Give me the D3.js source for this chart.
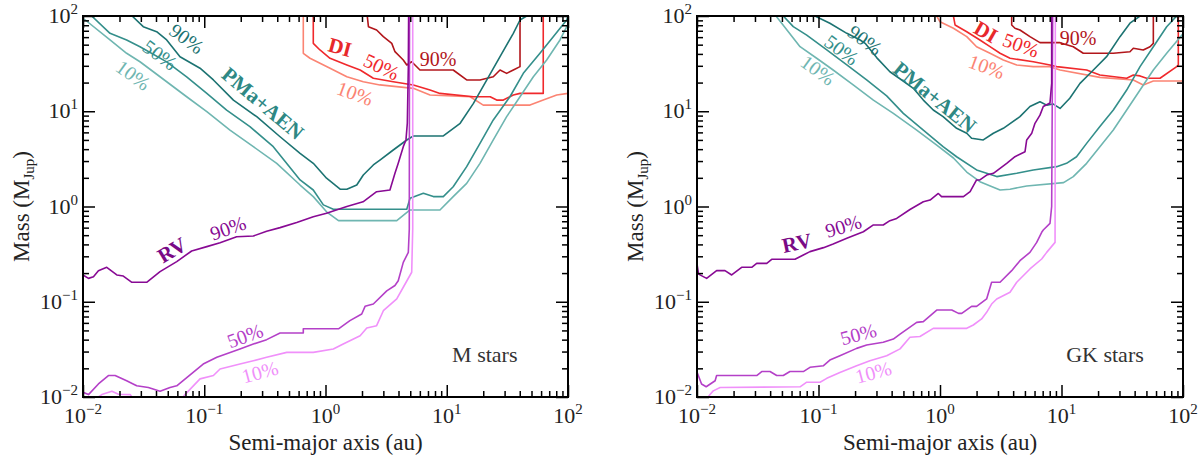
<!DOCTYPE html>
<html>
<head>
<meta charset="utf-8">
<script src="https://cdn.jsdelivr.net/npm/d3@7"></script>
<style>
  body { margin: 0; background: #fff; }
  svg { display: block; }
  text { font-family: "Liberation Serif", "DejaVu Serif", serif; }
</style>
</head>
<body>
<svg id="chart" width="1200" height="459"></svg>
<script>
// detection limits, points are [semi-major axis (au), mass (MJup)]
// ---- M stars ----
const rvM90 = [[0.0100,0.191],[0.0111,0.176],[0.0122,0.183],[0.0134,0.212],[0.0157,0.230],[0.019,0.191],[0.0215,0.186],[0.0253,0.160],[0.0335,0.160],[0.0432,0.207],[0.0593,0.264],[0.0787,0.341],[0.105,0.379],[0.135,0.417],[0.185,0.482],[0.254,0.49],[0.327,0.55],[0.422,0.60],[0.579,0.68],[0.793,0.78],[1.02,0.85],[1.5,1.0],[2.04,1.12],[2.64,1.43],[3.4,1.49],[3.74,2.23],[3.98,2.85],[4.38,4.25],[4.61,5.0],[4.73,7.5],[4.82,29],[4.85,110]];
const rvM50 = [[0.0100,0.0112],[0.0111,0.0106],[0.0134,0.0137],[0.0162,0.0168],[0.0184,0.0168],[0.0229,0.0148],[0.0277,0.0131],[0.0346,0.0126],[0.0432,0.0115],[0.0522,0.0126],[0.0593,0.0131],[0.098,0.0222],[0.127,0.0261],[0.197,0.0319],[0.254,0.036],[0.327,0.040],[0.422,0.047],[0.656,0.047],[0.656,0.052],[1.28,0.052],[1.59,0.0633],[1.99,0.0743],[2.12,0.0895],[2.48,0.0946],[3.20,0.130],[3.74,0.148],[3.98,0.166],[4.38,0.259],[4.82,0.33],[4.91,0.58],[4.93,110]];
const rvM10 = [[0.0126,0.0095],[0.0143,0.0106],[0.0173,0.0115],[0.0196,0.0107],[0.0245,0.0106],[0.0269,0.009],[0.063,0.009],[0.0693,0.0106],[0.0923,0.0155],[0.119,0.0168],[0.135,0.0197],[0.197,0.0222],[0.254,0.024],[0.327,0.0261],[0.479,0.0294],[0.793,0.0294],[1.16,0.0319],[1.40,0.036],[1.93,0.044],[2.19,0.053],[2.64,0.0561],[3.0,0.0805],[3.87,0.107],[4.38,0.142],[5.14,0.204],[5.24,0.58],[5.24,110]];
const pmaM90 = [[0.0254,100],[0.0314,77.3],[0.0405,68.4],[0.049,56],[0.0631,37.4],[0.0923,28.3],[0.119,21.3],[0.174,13.1],[0.271,8.77],[0.422,5.4],[0.617,3.62],[0.793,2.84],[1.02,1.98],[1.32,1.52],[1.50,1.52],[1.81,1.68],[2.05,2.14],[2.48,2.73],[2.81,3.07],[3.62,3.92],[4.68,4.99],[5.30,5.5],[9.37,5.5],[12.9,7.47],[16.6,12.1],[21.4,21.3],[27.5,37.4],[35.4,65.8],[40.2,90.8],[45.6,100]];
const pmaM50 = [[0.0118,100],[0.0167,65.8],[0.0229,56],[0.0295,47.6],[0.049,33],[0.0716,23],[0.105,15.4],[0.153,10.3],[0.238,6.9],[0.371,4.25],[0.617,1.90],[0.793,1.49],[0.96,1.04],[1.16,0.935],[4.68,0.935],[4.98,1.22],[6.41,1.38],[7.75,1.27],[9.37,1.27],[11.3,1.61],[14.6,2.62],[18.8,4.6],[24.2,8.1],[33.2,14.2],[42.8,25],[58.7,40.6],[75.6,60.7],[97.5,90.8],[100,100]];
const pmaM10 = [[0.0102,93],[0.0167,56],[0.0229,40.6],[0.0295,33.1],[0.049,20.4],[0.0716,14.2],[0.105,9.9],[0.163,6.35],[0.254,4.25],[0.396,2.84],[0.617,1.68],[0.793,1.27],[1.02,0.88],[1.28,0.71],[3.87,0.71],[4.98,0.92],[8.79,0.92],[11.3,1.27],[14.6,1.75],[18.8,2.84],[24.2,5.0],[31.2,8.77],[40.2,14.2],[51.8,23],[66.7,34.5],[85.9,56],[100,82]];
const diM90 = [[2.21,100],[2.26,77.3],[2.64,71.3],[3.0,60.7],[3.52,51.6],[3.74,42.2],[4.38,34.5],[4.68,30.6],[5.14,33.1],[6.01,27.1],[11.3,27.1],[14.6,21.3],[18.8,21.3],[24.2,23],[27.5,27.1],[31.2,25],[35.4,27.1],[40.2,29.4],[40.2,100]];
const diM50 = [[0.793,100],[0.793,51.6],[0.90,44],[1.09,36],[1.50,30.6],[1.93,27.1],[2.48,22.2],[3.62,20.4],[5.30,18.9],[7.28,16.7],[8.79,15.4],[16.6,14.2],[22.8,14.2],[25.8,13.1],[29.3,13.1],[35.4,14.8],[40.2,15.4],[62.5,15.4],[62.5,21.3],[62.5,100]];
const diM10 = [[0.656,100],[0.656,40.6],[0.745,36],[1.09,28.3],[1.50,23],[2.05,20.4],[2.81,18.9],[5.30,17.4],[7.28,14.8],[15.6,14.2],[20.0,11.6],[48.6,11.6],[62.5,13.1],[80.7,14.8],[100,15.4]];

// ---- GK stars ----
const rvGK90 = [[0.0100,0.25],[0.0103,0.195],[0.0120,0.176],[0.0145,0.212],[0.0170,0.212],[0.0193,0.191],[0.0233,0.230],[0.0282,0.230],[0.031,0.253],[0.0375,0.253],[0.0412,0.279],[0.0641,0.279],[0.075,0.31],[0.0851,0.336],[0.110,0.37],[0.132,0.404],[0.171,0.463],[0.234,0.543],[0.283,0.64],[0.341,0.64],[0.387,0.71],[0.44,0.75],[0.566,0.93],[0.729,1.12],[0.828,1.17],[0.969,1.37],[1.03,1.27],[1.56,1.27],[1.77,1.43],[2.0,1.9],[2.13,1.9],[2.42,2.14],[2.75,2.23],[3.54,2.84],[4.14,3.33],[5.01,3.76],[5.17,5.0],[5.69,5.87],[6.05,7.47],[6.65,9.1],[7.08,11.2],[8.04,12.2],[8.30,19.6],[8.30,110]];
const rvGK50 = [[0.0100,0.0183],[0.0109,0.0137],[0.0119,0.0128],[0.0141,0.0148],[0.0145,0.0168],[0.031,0.0168],[0.0341,0.0185],[0.0399,0.0185],[0.0453,0.0168],[0.0513,0.0168],[0.0582,0.0185],[0.075,0.0185],[0.0851,0.0205],[0.110,0.0213],[0.124,0.0244],[0.150,0.0271],[0.206,0.0324],[0.249,0.0352],[0.341,0.0375],[0.413,0.0406],[0.469,0.0458],[0.643,0.0608],[0.729,0.0618],[0.94,0.0818],[1.25,0.0818],[1.42,0.0755],[1.51,0.0755],[1.82,0.0895],[2.0,0.0895],[2.42,0.107],[2.66,0.16],[3.12,0.16],[3.89,0.212],[4.55,0.27],[5.5,0.33],[6.25,0.42],[6.87,0.536],[7.08,0.566],[8.04,0.665],[8.30,1.0],[8.47,110]];
const rvGK10 = [[0.0116,0.009],[0.0128,0.0106],[0.0136,0.0116],[0.0155,0.0126],[0.0705,0.0128],[0.080,0.0143],[0.103,0.0143],[0.117,0.0157],[0.150,0.0181],[0.206,0.0213],[0.265,0.024],[0.364,0.0271],[0.469,0.032],[0.566,0.0424],[0.684,0.0432],[0.88,0.0526],[1.66,0.0526],[1.88,0.057],[2.20,0.066],[2.42,0.0775],[2.66,0.0946],[2.93,0.107],[3.77,0.126],[4.28,0.16],[5.5,0.221],[6.87,0.281],[7.55,0.33],[8.85,0.42],[8.9,110]];
const pmaGK90 = [[0.0935,100],[0.124,84],[0.171,65.8],[0.22,56],[0.242,51.6],[0.301,36.6],[0.387,26],[0.484,21.3],[0.603,17.4],[0.729,13.1],[0.88,10.3],[1.06,8.77],[1.37,6.62],[1.66,5.87],[1.82,5.2],[2.27,5.0],[2.75,5.87],[3.32,6.62],[4.55,8.77],[5.5,11.2],[6.65,12.6],[7.55,11.6],[8.57,11.9],[9.73,10.7],[11.7,13.7],[14.2,19.6],[18.3,27.1],[23.5,37.4],[30.3,60.7],[36.6,84],[44.3,100]];
const pmaGK50 = [[0.0513,100],[0.062,77.3],[0.080,63],[0.117,44],[0.171,30.6],[0.249,21.3],[0.364,14.5],[0.499,9.5],[0.729,6.35],[1.06,4.25],[1.37,3.33],[2.0,2.42],[2.42,2.23],[2.93,2.06],[4.28,2.23],[5.86,2.42],[9.12,2.62],[11.0,2.84],[13.3,3.33],[16.1,4.6],[20.7,6.9],[26.7,10.3],[34.4,16.7],[44.3,29.4],[57,47.6],[73.4,77],[88.7,100]];
const pmaGK10 = [[0.0447,100],[0.0705,47.6],[0.0966,36],[0.132,27.1],[0.193,18.9],[0.283,13.1],[0.413,9.5],[0.643,6.35],[0.94,4.42],[1.29,3.23],[1.66,2.30],[2.13,1.82],[3.12,1.49],[3.77,1.52],[5.17,1.64],[10.4,1.78],[12.5,2.06],[16.1,2.84],[20.7,4.25],[26.7,6.35],[34.4,10.3],[44.3,16.7],[57,27.1],[73.4,40.6],[100,65]];
const diGK90 = [[3.89,100],[3.89,80.5],[4.14,74.3],[4.55,71.3],[5.5,60.7],[6.65,52.5],[9.73,52.5],[12.5,47.6],[15.1,40.6],[26.7,40.6],[36.6,42.2],[39,45.8],[47.1,44],[53.5,47.6],[57,51.6],[57,100]];
const diGK50 = [[1.29,100],[1.33,80.5],[1.66,68.4],[2.13,56],[2.58,47.6],[3.12,40.6],[3.77,36],[5.86,33.1],[8.04,30.6],[9.12,29.4],[16.1,27.1],[20.7,24],[34.4,22.2],[39,24],[44.3,23.5],[50.2,22.2],[64.7,22.2],[88.7,29.4],[91.5,30.6],[91.5,100]];
const diGK10 = [[0.94,100],[1.0,87],[1.29,74.3],[1.66,60.7],[2.0,47.6],[2.58,40.6],[3.32,34.5],[4.28,30.6],[5.86,29.4],[8.04,29.4],[9.73,27.1],[20.7,22.7],[39,21.3],[47.1,18.9],[57,20.8],[100,20.8]];

// contour labels: [text, a, M, rotation, series]
const labelsM = [
  ["90%", 0.0716, 58, 36, "pma90"], ["50%", 0.0432, 39, 36, "pma50"], ["10%", 0.026, 24, 36, "pma10"],
  ["PMa+AEN", 0.305, 12.2, 40, "pmaText"],
  ["DI", 1.32, 47.3, 15, "diText"], ["50%", 2.9, 29.4, 25, "di50"], ["10%", 1.75, 15.4, 20, "di10"], ["90%", 8.47, 35.4, 0, "di90"],
  ["RV", 0.054, 0.35, -31, "rvText"], ["90%", 0.157, 0.594, -19, "rv90"],
  ["50%", 0.217, 0.044, -20, "rv50"], ["10%", 0.288, 0.0183, -15, "rv10"]
];
const labelsGK = [
  ["90%", 0.242, 56, 36, "pma90"], ["50%", 0.155, 44, 36, "pma50"], ["10%", 0.099, 27.1, 36, "pma10"],
  ["PMa+AEN", 0.91, 14.1, 39, "pmaText"],
  ["DI", 2.39, 68.4, 30, "diText"], ["50%", 4.64, 49.6, 20, "di50"], ["10%", 2.42, 29.4, 20, "di10"], ["90%", 13.7, 58.3, 0, "di90"],
  ["RV", 0.0662, 0.417, -12, "rvText"], ["90%", 0.16, 0.624, -17, "rv90"],
  ["50%", 0.213, 0.0458, -15, "rv50"], ["10%", 0.283, 0.0182, -15, "rv10"]
];

const majorTicks = [1e-2, 1e-1, 1, 10, 100];
const majorExp = ["\u22122", "\u22121", "0", "1", "2"];

const colors = {
  rv90: "#880a94", rv50: "#b440c8", rv10: "#f090fa", rvText: "#7a0a86",
  pma90: "#1c7372", pma50: "#348f8b", pma10: "#6fb6b1", pmaText: "#2e8884",
  di90: "#b2161b", di50: "#f0292c", di10: "#fb8473", diText: "#e8282b"
};

const panels = [
  { left: 83, right: 568, name: "M stars", nameAt: [20.6, 0.0283],
    curves: [["di10", diM10], ["di50", diM50], ["di90", diM90], ["pma10", pmaM10], ["pma50", pmaM50], ["pma90", pmaM90], ["rv10", rvM10], ["rv50", rvM50], ["rv90", rvM90]],
    labels: labelsM },
  { left: 697, right: 1183, name: "GK stars", nameAt: [22.8, 0.0283],
    curves: [["di10", diGK10], ["di50", diGK50], ["di90", diGK90], ["pma10", pmaGK10], ["pma50", pmaGK50], ["pma90", pmaGK90], ["rv10", rvGK10], ["rv50", rvGK50], ["rv90", rvGK90]],
    labels: labelsGK }
];

const plotTop = 16, plotBottom = 397;
const svg = d3.select("#chart");

const minorTicks = [];
[-2, -1, 0, 1].forEach(k => { for (let m = 2; m <= 9; m++) minorTicks.push(m * Math.pow(10, k)); });

panels.forEach((p, i) => {
  const x = d3.scaleLog().domain([1e-2, 1e2]).range([p.left, p.right]);
  const y = d3.scaleLog().domain([1e-2, 1e2]).range([plotBottom, plotTop]);
  const w = p.right - p.left, h = plotBottom - plotTop;
  const g = svg.append("g");

  g.append("clipPath").attr("id", "clip" + i)
    .append("rect").attr("x", p.left).attr("y", plotTop).attr("width", w).attr("height", h);

  const line = d3.line().x(d => x(d[0])).y(d => y(d[1]));
  const curves = g.append("g").attr("clip-path", `url(#clip${i})`);
  p.curves.forEach(([key, data]) => {
    curves.append("path").datum(data)
      .attr("d", line)
      .attr("fill", "none")
      .attr("stroke", colors[key])
      .attr("stroke-width", 1.6)
      .attr("stroke-linejoin", "round");
  });

  // ticks on all four sides, pointing inward
  const tickSets = [[majorTicks, 12], [minorTicks, 6]];
  tickSets.forEach(([vals, len]) => {
    g.append("g").attr("transform", `translate(0,${plotBottom})`)
      .call(d3.axisBottom(x).tickValues(vals).tickSize(-len).tickSizeOuter(0).tickFormat(""));
    g.append("g").attr("transform", `translate(0,${plotTop})`)
      .call(d3.axisTop(x).tickValues(vals).tickSize(-len).tickSizeOuter(0).tickFormat(""));
    g.append("g").attr("transform", `translate(${p.left},0)`)
      .call(d3.axisLeft(y).tickValues(vals).tickSize(-len).tickSizeOuter(0).tickFormat(""));
    g.append("g").attr("transform", `translate(${p.right},0)`)
      .call(d3.axisRight(y).tickValues(vals).tickSize(-len).tickSizeOuter(0).tickFormat(""));
  });
  g.selectAll(".tick line").attr("stroke", "#000").attr("stroke-width", 1.5);
  g.selectAll(".domain").remove();

  g.append("rect").attr("x", p.left).attr("y", plotTop).attr("width", w).attr("height", h)
    .attr("fill", "none").attr("stroke", "#000").attr("stroke-width", 2);

  // tick labels 10^k
  majorTicks.forEach((v, j) => {
    const tx = g.append("text").attr("x", x(v)).attr("y", 423).attr("text-anchor", "middle")
      .attr("font-size", 22).attr("fill", "#222");
    tx.append("tspan").text("10");
    tx.append("tspan").attr("dy", -9).attr("font-size", 15).text(majorExp[j]);

    const ty = g.append("text").attr("x", p.left - 5).attr("y", y(v) + 7).attr("text-anchor", "end")
      .attr("font-size", 22).attr("fill", "#222");
    ty.append("tspan").text("10");
    ty.append("tspan").attr("dy", -9).attr("font-size", 15).text(majorExp[j]);
  });

  // axis titles
  g.append("text").attr("x", (p.left + p.right) / 2).attr("y", 450).attr("text-anchor", "middle")
    .attr("font-size", 23).attr("fill", "#222").text("Semi-major axis (au)");
  const yt = g.append("text")
    .attr("transform", `translate(${p.left - 54},${(plotTop + plotBottom) / 2}) rotate(-90)`)
    .attr("text-anchor", "middle").attr("font-size", 23).attr("fill", "#222");
  yt.append("tspan").text("Mass (M");
  yt.append("tspan").attr("font-size", 15).attr("dy", 5).text("Jup");
  yt.append("tspan").attr("dy", -5).text(")");

  // contour labels
  p.labels.forEach(([txt, a, m, rot, key]) => {
    const bold = txt === "RV" || txt === "DI" || txt === "PMa+AEN";
    g.append("text")
      .attr("transform", `translate(${x(a)},${y(m)}) rotate(${rot})`)
      .attr("text-anchor", "middle").attr("dy", "0.35em")
      .attr("font-size", bold ? 21 : 20)
      .attr("font-weight", bold ? "bold" : "normal")
      .attr("fill", colors[key])
      .text(txt);
  });

  g.append("text").attr("x", x(p.nameAt[0])).attr("y", y(p.nameAt[1])).attr("dy", "0.35em")
    .attr("text-anchor", "middle").attr("font-size", 22).attr("fill", "#333").text(p.name);
});
</script>
</body>
</html>
